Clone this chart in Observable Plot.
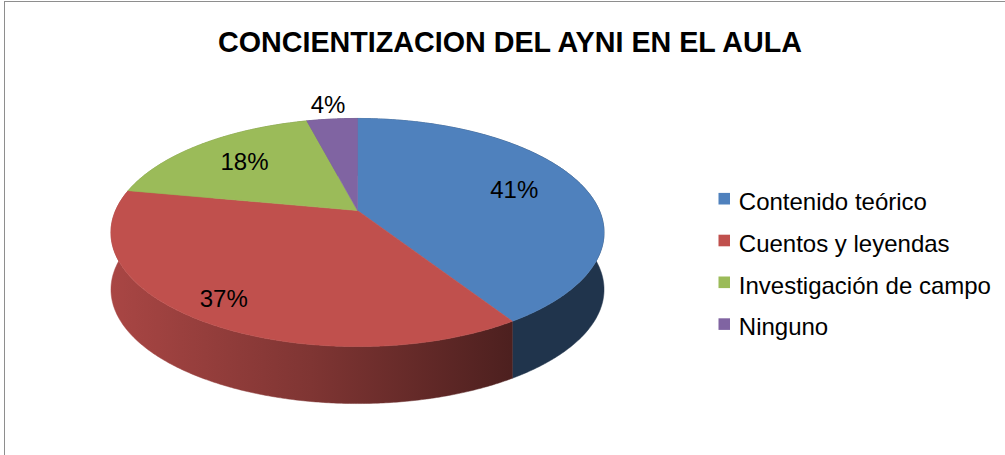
<!DOCTYPE html>
<html>
<head>
<meta charset="utf-8">
<script src="https://cdn.jsdelivr.net/npm/d3@7"></script>
<script src="https://cdn.jsdelivr.net/npm/@observablehq/plot@0.6"></script>
<style>
  html, body { margin: 0; padding: 0; background: #fff; }
  #wrap { position: relative; width: 1005px; height: 455px; overflow: hidden; background: #fff; }
  #frame { position: absolute; left: 4px; top: 1px; width: 1100px; height: 600px; border-left: 1.5px solid #8e8e8e; border-top: 1.5px solid #8e8e8e; }
  #title { position: absolute; left: 0; top: 26px; width: 1020px; text-align: center; font-family: "Liberation Sans", Arial, sans-serif; font-weight: bold; font-size: 28.7px; line-height: 33px; color: #000; z-index: 2; }
  #chart { position: absolute; left: 0; top: 0; }
</style>
</head>
<body>
<div id="wrap">
  <div id="frame"></div>
  <div id="chart"></div>
  <div id="title">CONCIENTIZACION DEL AYNI EN EL AULA</div>
</div>
<script>
// ---- data ----
const categories = ["Contenido teórico", "Cuentos y leyendas", "Investigación de campo", "Ninguno"];
const values = [41, 37, 18, 4];
const labels = ["41%", "37%", "18%", "4%"];

// ---- styles ----
const palette = ["#4f81bd", "#c0504d", "#9bbb59", "#8064a2"];
const font = "'Liberation Sans', Arial, sans-serif";

// ---- 3D pie geometry (perspective tilt) ----
const cx = 357, cy = 210, A = 241.9, B = 109.8, k = 0.193, depth = 57;
function proj(t, r = 1, dz = 0) {
  const th = 2 * Math.PI * t;
  const u = r * Math.sin(th), v = -r * Math.cos(th);
  const w = 1 - k * v;
  return {x: cx + A * u / w, y: cy + B * v / w + dz, v};
}

const total = d3.sum(values);
const starts = [];
let acc = 0;
for (const val of values) { starts.push(acc / total); acc += val; }
const ends = starts.map((s, i) => s + values[i] / total);

// top faces
const topRows = [];
const sideRows = [];
categories.forEach((c, i) => {
  const t0 = starts[i], t1 = ends[i];
  const n = Math.max(2, Math.ceil((t1 - t0) * 720));
  const c0 = proj(0, 0);
  topRows.push({id: c, x: c0.x, y: c0.y, color: palette[i]});
  const arc = [];
  for (let j = 0; j <= n; j++) arc.push(t0 + (t1 - t0) * j / n);
  for (const t of arc) {
    const p = proj(t);
    topRows.push({id: c, x: p.x, y: p.y, color: palette[i]});
  }
  topRows.push({id: c, x: c0.x, y: c0.y, color: palette[i]});
  // side wall of the slice: top arc then bottom arc reversed
  for (const t of arc) { const p = proj(t); sideRows.push({id: c, x: p.x, y: p.y, color: `url(#side${i})`}); }
  for (const t of arc.slice().reverse()) { const p = proj(t, 1, depth); sideRows.push({id: c, x: p.x, y: p.y, color: `url(#side${i})`}); }
  const p0 = proj(t0);
  sideRows.push({id: c, x: p0.x, y: p0.y, color: `url(#side${i})`});
});

// labels
const labelRadius = values.map((v, i) => (v / total < 0.05 ? 1.19 : (i === 1 ? 0.85 : 0.7)));
const labelRows = labels.map((l, i) => {
  const p = proj((starts[i] + ends[i]) / 2, labelRadius[i]);
  return {text: l, x: p.x, y: p.y};
});

// legend
const legendX = 718.5, legendY0 = 198.7, legendStep = 41.8;
const legendRows = categories.map((c, i) => ({name: c, color: palette[i], y: legendY0 + i * legendStep}));

const chart = Plot.plot({
  width: 1005,
  height: 455,
  margin: 0,
  x: {domain: [0, 1005], range: [0, 1005], axis: null},
  y: {domain: [0, 455], range: [0, 455], axis: null},
  color: {type: "identity"},
  style: {background: "transparent", fontFamily: font},
  marks: [
    Plot.line(sideRows, {x: "x", y: "y", z: "id", fill: "color", stroke: "color", strokeWidth: 0.5, curve: "linear"}),
    Plot.line(topRows, {x: "x", y: "y", z: "id", fill: "color", stroke: "color", strokeWidth: 0.6, curve: "linear"}),
    Plot.text(labelRows, {x: "x", y: "y", text: "text", fontSize: 24, fill: "black", fontFamily: font}),
    Plot.rect(legendRows, {x1: legendX, x2: legendX + 11.5, y1: d => d.y - 5.8, y2: d => d.y + 5.8, fill: "color"}),
    Plot.text(legendRows, {x: legendX + 19.8, y: d => d.y + 3.2, text: "name", textAnchor: "start", fontSize: 24, fill: "black", fontFamily: font})
  ]
});

// horizontal shading gradients for the side walls
const defs = d3.select(chart).insert("defs", ":first-child");
palette.forEach((hex, i) => {
  const g = defs.append("linearGradient")
    .attr("id", `side${i}`)
    .attr("gradientUnits", "userSpaceOnUse")
    .attr("x1", 110).attr("y1", 0).attr("x2", 510).attr("y2", 0);
  const base = d3.rgb(hex);
  [[0, 0.88], [0.5, 0.66], [1, 0.4]].forEach(([o, f]) => {
    g.append("stop").attr("offset", o)
      .attr("stop-color", d3.rgb(base.r * f, base.g * f, base.b * f).formatHex());
  });
});

document.getElementById("chart").appendChild(chart);
</script>
</body>
</html>
